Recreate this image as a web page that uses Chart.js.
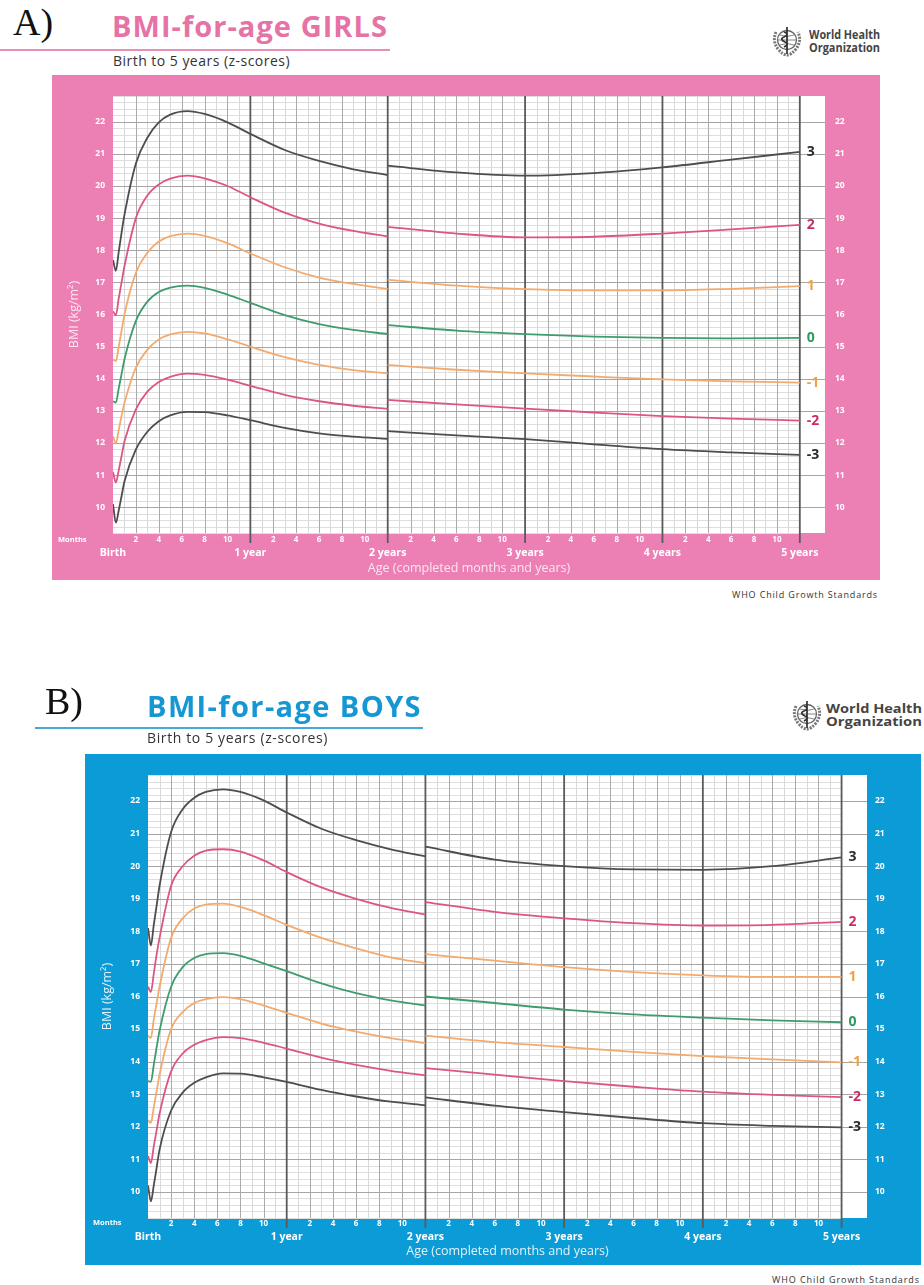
<!DOCTYPE html>
<html>
<head>
<meta charset="utf-8">
<script src="https://cdn.jsdelivr.net/npm/chart.js@4.4.1/dist/chart.umd.min.js"></script>
<style>
html,body{margin:0;padding:0;background:#fff;}
body{width:924px;height:1285px;position:relative;overflow:hidden;font-family:'Open Sans',sans-serif;}
.abs{position:absolute;white-space:nowrap;line-height:1;}
.lbl{font-family:'Liberation Serif',serif;font-size:38px;color:#111;}
.ttl{font-weight:700;font-size:29px;}
.sub{font-size:14px;color:#333;}
.rule{position:absolute;height:1.5px;}
.who{font-weight:700;font-size:12px;color:#444;transform-origin:left top;}
.src{font-size:9px;color:#333;}
.months{font-weight:700;font-size:7.5px;color:#fff;}
canvas{position:absolute;}
</style>
</head>
<body>
<!-- Girls header -->
<div class="abs lbl" style="left:13px;top:3px;">A)</div>
<div class="abs ttl" id="gTitle" data-w="276" style="left:112px;top:11px;color:#e573a6;">BMI-for-age GIRLS</div>
<div class="rule" style="left:0;top:49px;width:390px;background:#e88fb8;"></div>
<div class="abs sub" id="gSub" data-w="177" style="left:113px;top:54px;">Birth to 5 years (z-scores)</div>
<svg class="abs" style="left:767px;top:23px;" width="40" height="36" viewBox="0 0 40 36">
  <path d="M9 9 q-4 9 2 17 q5 6 9 6 q4 0 9 -6 q6 -8 2 -17" fill="none" stroke="#777" stroke-width="3" stroke-dasharray="2 1.2"/>
  <circle cx="20" cy="17" r="9.5" fill="none" stroke="#666" stroke-width="1.3"/>
  <path d="M11 17 h18 M20 8 v18 M13 12 q7 3 14 0 M13 22 q7 -3 14 0" stroke="#777" fill="none" stroke-width="0.9"/>
  <path d="M20 4 v27 M17 9 q6 2 0 5 q-5 2 1 5 q5 2 -1 5" stroke="#333" stroke-width="1.7" fill="none"/>
</svg>
<div class="abs who" id="gWho1" data-w="71" style="left:809px;top:29px;">World Health</div>
<div class="abs who" id="gWho2" data-w="71" style="left:809px;top:42px;">Organization</div>
<canvas id="girls" width="828" height="505" style="left:52px;top:75px;width:828px;height:505px;background:#ec7fb4;"></canvas>
<div class="abs months" style="left:58px;top:536px;">Months</div>
<div class="abs src" id="gSrc" data-w="146" style="left:732px;top:590px;">WHO Child Growth Standards</div>

<!-- Boys header -->
<div class="abs lbl" style="left:45px;top:682px;">B)</div>
<div class="abs ttl" id="bTitle" data-w="275" style="left:147px;top:691px;color:#1497d3;">BMI-for-age BOYS</div>
<div class="rule" style="left:35px;top:727px;width:388px;background:#47a9d9;"></div>
<div class="abs sub" id="bSub" data-w="181" style="left:147px;top:731px;">Birth to 5 years (z-scores)</div>
<svg class="abs" style="left:787px;top:697px;" width="40" height="36" viewBox="0 0 40 36">
  <path d="M9 9 q-4 9 2 17 q5 6 9 6 q4 0 9 -6 q6 -8 2 -17" fill="none" stroke="#777" stroke-width="3" stroke-dasharray="2 1.2"/>
  <circle cx="20" cy="17" r="9.5" fill="none" stroke="#666" stroke-width="1.3"/>
  <path d="M11 17 h18 M20 8 v18 M13 12 q7 3 14 0 M13 22 q7 -3 14 0" stroke="#777" fill="none" stroke-width="0.9"/>
  <path d="M20 4 v27 M17 9 q6 2 0 5 q-5 2 1 5 q5 2 -1 5" stroke="#333" stroke-width="1.7" fill="none"/>
</svg>
<div class="abs who" id="bWho1" data-w="96" style="left:826px;top:703px;">World Health</div>
<div class="abs who" id="bWho2" data-w="96" style="left:826px;top:716px;">Organization</div>
<canvas id="boys" width="836" height="511" style="left:85px;top:754px;width:836px;height:511px;background:#0b9bd6;"></canvas>
<div class="abs months" style="left:93px;top:1219px;">Months</div>
<div class="abs src" id="bSrc" data-w="148" style="left:772px;top:1275px;">WHO Child Growth Standards</div>

<script>
// ---------- DATA ----------
const zKeys = ['3', '2', '1', '0', '-1', '-2', '-3'];
const monthsA = [0, 0.25, 0.5, 0.75, 1, 2, 3, 4, 5, 6.5, 8, 10, 12, 15, 18, 21, 24];
const monthsB = [24, 30, 36, 42, 48, 54, 60];
const yTicks = [10, 11, 12, 13, 14, 15, 16, 17, 18, 19, 20, 21, 22];
const monthTicks = [2, 4, 6, 8, 10, 14, 16, 18, 20, 22, 26, 28, 30, 32, 34, 38, 40, 42, 44, 46, 50, 52, 54, 56, 58];
const yearTicks = [0, 12, 24, 36, 48, 60];
const yearLabels = ['Birth', '1 year', '2 years', '3 years', '4 years', '5 years'];

// Girls, birth to 2 years
const girls3A  = [17.7, 17.36, 17.95, 18.55, 19.1, 20.7, 21.5, 21.98, 22.22, 22.33, 22.24, 21.98, 21.62, 21.12, 20.78, 20.52, 20.34];
const girls2A  = [16.1, 15.98, 16.5, 17.0, 17.5, 19.0, 19.7, 20.05, 20.23, 20.32, 20.24, 20.0, 19.65, 19.17, 18.83, 18.6, 18.43];
const girls1A  = [14.6, 14.55, 15.0, 15.5, 16.0, 17.3, 17.92, 18.27, 18.44, 18.52, 18.45, 18.22, 17.9, 17.47, 17.15, 16.95, 16.79];
const girls0A  = [13.3, 13.26, 13.7, 14.15, 14.6, 15.8, 16.4, 16.7, 16.84, 16.9, 16.83, 16.62, 16.36, 15.98, 15.7, 15.52, 15.39];
const girlsM1A = [12.2, 11.99, 12.4, 12.85, 13.25, 14.35, 14.9, 15.22, 15.38, 15.46, 15.41, 15.23, 15.0, 14.67, 14.43, 14.27, 14.17];
const girlsM2A = [11.1, 10.77, 11.15, 11.6, 12.05, 13.05, 13.6, 13.9, 14.06, 14.16, 14.12, 13.97, 13.78, 13.5, 13.3, 13.16, 13.06];
const girlsM3A = [10.1, 9.52, 9.9, 10.35, 10.8, 11.8, 12.35, 12.68, 12.86, 12.97, 12.96, 12.86, 12.71, 12.47, 12.3, 12.2, 12.13];
// Girls, 2 to 5 years
const girls3B  = [20.63, 20.42, 20.32, 20.40, 20.58, 20.82, 21.06];
const girls2B  = [18.73, 18.52, 18.40, 18.42, 18.52, 18.65, 18.79];
const girls1B  = [17.08, 16.90, 16.79, 16.75, 16.75, 16.80, 16.88];
const girls0B  = [15.67, 15.50, 15.39, 15.31, 15.27, 15.26, 15.27];
const girlsM1B = [14.43, 14.28, 14.17, 14.07, 13.98, 13.92, 13.88];
const girlsM2B = [13.34, 13.20, 13.07, 12.95, 12.84, 12.76, 12.70];
const girlsM3B = [12.37, 12.24, 12.12, 11.96, 11.81, 11.71, 11.63];

// Boys, birth to 2 years
const boys3A  = [18.1, 17.57, 18.2, 18.8, 19.4, 21.05, 21.75, 22.1, 22.28, 22.36, 22.28, 22.02, 21.65, 21.15, 20.8, 20.52, 20.3];
const boys2A  = [16.3, 16.14, 16.7, 17.3, 17.8, 19.4, 20.0, 20.32, 20.48, 20.52, 20.45, 20.18, 19.82, 19.35, 19.0, 18.72, 18.52];
const boys1A  = [14.8, 14.73, 15.3, 15.8, 16.3, 17.8, 18.4, 18.7, 18.82, 18.85, 18.75, 18.5, 18.2, 17.8, 17.48, 17.2, 17.02];
const boys0A  = [13.4, 13.38, 13.9, 14.45, 14.95, 16.3, 16.9, 17.18, 17.3, 17.33, 17.25, 17.02, 16.78, 16.4, 16.1, 15.88, 15.72];
const boysM1A = [12.2, 12.12, 12.6, 13.1, 13.6, 15.0, 15.52, 15.8, 15.92, 15.98, 15.92, 15.72, 15.5, 15.17, 14.92, 14.72, 14.57];
const boysM2A = [11.1, 10.89, 11.4, 11.9, 12.4, 13.7, 14.25, 14.52, 14.66, 14.75, 14.72, 14.58, 14.4, 14.12, 13.9, 13.72, 13.58];
const boysM3A = [10.2, 9.71, 10.2, 10.75, 11.3, 12.5, 13.05, 13.35, 13.52, 13.64, 13.63, 13.52, 13.38, 13.13, 12.93, 12.77, 12.66];
// Boys, 2 to 5 years
const boys3B  = [20.6, 20.2, 20.0, 19.9, 19.89, 20.0, 20.27];
const boys2B  = [18.9, 18.6, 18.4, 18.25, 18.18, 18.2, 18.29];
const boys1B  = [17.3, 17.1, 16.9, 16.75, 16.65, 16.6, 16.6];
const boys0B  = [16.0, 15.8, 15.6, 15.45, 15.35, 15.27, 15.21];
const boysM1B = [14.8, 14.6, 14.45, 14.3, 14.17, 14.07, 13.98];
const boysM2B = [13.8, 13.6, 13.4, 13.23, 13.08, 12.98, 12.91];
const boysM3B = [12.9, 12.65, 12.45, 12.27, 12.11, 12.03, 11.98];

// ---------- STYLE ----------
const FAM = "'Open Sans', sans-serif";
const lineColors = ['#4d4d4d', '#dc5683', '#f3aa6e', '#3f9c6e', '#f3aa6e', '#dc5683', '#4d4d4d'];
const labelColors = ['#2b2b2b', '#c92e60', '#eea14c', '#2f9a5e', '#eea14c', '#c92e60', '#2b2b2b'];

function spaceText(id) {
  const el = document.getElementById(id);
  const target = parseFloat(el.dataset.w);
  const w = el.getBoundingClientRect().width;
  el.style.letterSpacing = ((target - w) / el.textContent.length) + 'px';
}
function scaleText(id) {
  const el = document.getElementById(id);
  const target = parseFloat(el.dataset.w);
  const w = el.getBoundingClientRect().width;
  el.style.transform = 'scaleX(' + (target / w) + ')';
}
['gTitle', 'gSub', 'gSrc', 'bTitle', 'bSub', 'bSrc'].forEach(spaceText);
['gWho1', 'gWho2', 'bWho1', 'bWho2'].forEach(scaleText);

const gridPlugin = {
  id: 'whoGrid',
  beforeDatasetsDraw(chart) {
    const {ctx, chartArea: a} = chart;
    const x = chart.scales.x, y = chart.scales.y;
    ctx.save();
    ctx.fillStyle = '#ffffff';
    ctx.fillRect(a.left, a.top, a.right - a.left, a.bottom - a.top);
    const x60 = x.getPixelForValue(60);
    const line = (x1, y1, x2, y2, c, w) => {
      ctx.strokeStyle = c; ctx.lineWidth = w;
      ctx.beginPath(); ctx.moveTo(x1, y1); ctx.lineTo(x2, y2); ctx.stroke();
    };
    for (let i = 46; i <= 114; i++) {
      if (i % 5 === 0) continue;
      const py = Math.round(y.getPixelForValue(i / 5)) + 0.5;
      line(a.left, py, x60, py, '#dedede', 1);
    }
    for (let m = 1; m < 60; m++) {
      if (m % 12 === 0) continue;
      const px = Math.round(x.getPixelForValue(m)) + 0.5;
      line(px, a.top, px, a.bottom, m % 2 ? '#d8d8d8' : '#ababab', 1);
    }
    for (let v = 10; v <= 22; v++) {
      const py = Math.round(y.getPixelForValue(v)) + 0.5;
      line(a.left, py, a.right, py, '#a6a6a6', 1);
    }
    for (let m = 12; m <= 60; m += 12) {
      const px = x.getPixelForValue(m);
      line(px, a.top, px, a.bottom + 10, '#5a5a5a', 1.8);
    }
    ctx.restore();
  }
};

const zLabelPlugin = {
  id: 'zLabels',
  afterDatasetsDraw(chart, args, opts) {
    const {ctx} = chart;
    const x = chart.scales.x, y = chart.scales.y;
    ctx.save();
    ctx.font = "bold 14px 'Open Sans'";
    ctx.textBaseline = 'middle';
    ctx.textAlign = 'left';
    opts.ends.forEach((v, i) => {
      ctx.fillStyle = labelColors[i];
      ctx.fillText(zKeys[i], x.getPixelForValue(60) + opts.dx, y.getPixelForValue(v));
    });
    ctx.restore();
  }
};

function makeChart(id, A, B, g) {
  const datasets = [];
  A.forEach((arr, i) => {
    const common = {borderColor: lineColors[i], borderWidth: 1.8, pointRadius: 0, fill: false,
                    cubicInterpolationMode: 'monotone', xAxisID: 'x', yAxisID: 'y'};
    datasets.push(Object.assign({label: zKeys[i] + 'a', data: monthsA.map((m, j) => ({x: m, y: arr[j]}))}, common));
    datasets.push(Object.assign({label: zKeys[i] + 'b', data: monthsB.map((m, j) => ({x: m, y: B[i][j]}))}, common));
  });
  const tickFont = {family: FAM, size: 8.5, weight: 'bold'};
  const yAxis = (pos, width, pad, title) => ({
    type: 'linear', position: pos, min: 9.2, max: 22.8,
    grid: {display: false, drawTicks: false}, border: {display: false},
    afterBuildTicks: s => { s.ticks = yTicks.map(v => ({value: v})); },
    afterFit: s => { s.width = width; },
    ticks: {color: '#ffffff', font: tickFont, padding: pad, callback: v => String(v)},
    title: title ? {display: true, text: 'BMI (kg/m²)', color: g.soft, font: {family: FAM, size: 12.5},
                    padding: {top: 15, bottom: 0}} : {display: false}
  });
  return new Chart(document.getElementById(id), {
    type: 'line',
    data: {datasets},
    plugins: [gridPlugin, zLabelPlugin],
    options: {
      responsive: false, animation: false, devicePixelRatio: 1,
      layout: {padding: {top: 21, left: 0, right: 0, bottom: 0}},
      plugins: {legend: {display: false}, tooltip: {enabled: false},
                zLabels: {ends: B.map(a => a[a.length - 1]), dx: g.dx}},
      scales: {
        x: {type: 'linear', position: 'bottom', weight: 0, min: 0, max: 62.2,
            grid: {display: false, drawTicks: false}, border: {display: false},
            afterBuildTicks: s => { s.ticks = monthTicks.map(v => ({value: v})); },
            afterFit: s => { s.height = 12; },
            ticks: {color: '#ffffff', font: {family: FAM, size: 8, weight: 'bold'}, padding: g.mPad,
                    maxRotation: 0, autoSkip: false, callback: v => String(v % 12)}},
        x2: {type: 'linear', position: 'bottom', weight: 1, min: 0, max: 62.2,
             grid: {display: false, drawTicks: false}, border: {display: false},
             afterBuildTicks: s => { s.ticks = yearTicks.map(v => ({value: v})); },
             afterFit: s => { s.height = 35; },
             ticks: {color: '#ffffff', font: {family: FAM, size: 10.5, weight: 'bold'}, padding: g.yPad,
                     maxRotation: 0, autoSkip: false, callback: v => yearLabels[Math.round(v / 12)]},
             title: {display: true, text: 'Age (completed months and years)', color: g.soft,
                     font: {family: FAM, size: 12.5}, padding: {top: 0, bottom: g.tPad}}},
        y: yAxis('left', g.left, 8, true),
        y2: yAxis('right', g.right, g.rPad, false)
      }
    }
  });
}

makeChart('girls',
  [girls3A, girls2A, girls1A, girls0A, girlsM1A, girlsM2A, girlsM3A],
  [girls3B, girls2B, girls1B, girls0B, girlsM1B, girlsM2B, girlsM3B],
  {left: 61, right: 55, rPad: 10, mPad: 2, yPad: 2, tPad: 4, dx: 7, soft: '#fde6f1'});
makeChart('boys',
  [boys3A, boys2A, boys1A, boys0A, boysM1A, boysM2A, boysM3A],
  [boys3B, boys2B, boys1B, boys0B, boysM1B, boysM2B, boysM3B],
  {left: 63, right: 54, rPad: 8, mPad: 1, yPad: 1, tPad: 6, dx: 7, soft: '#e2f3fb'});
</script>
</body>
</html>
